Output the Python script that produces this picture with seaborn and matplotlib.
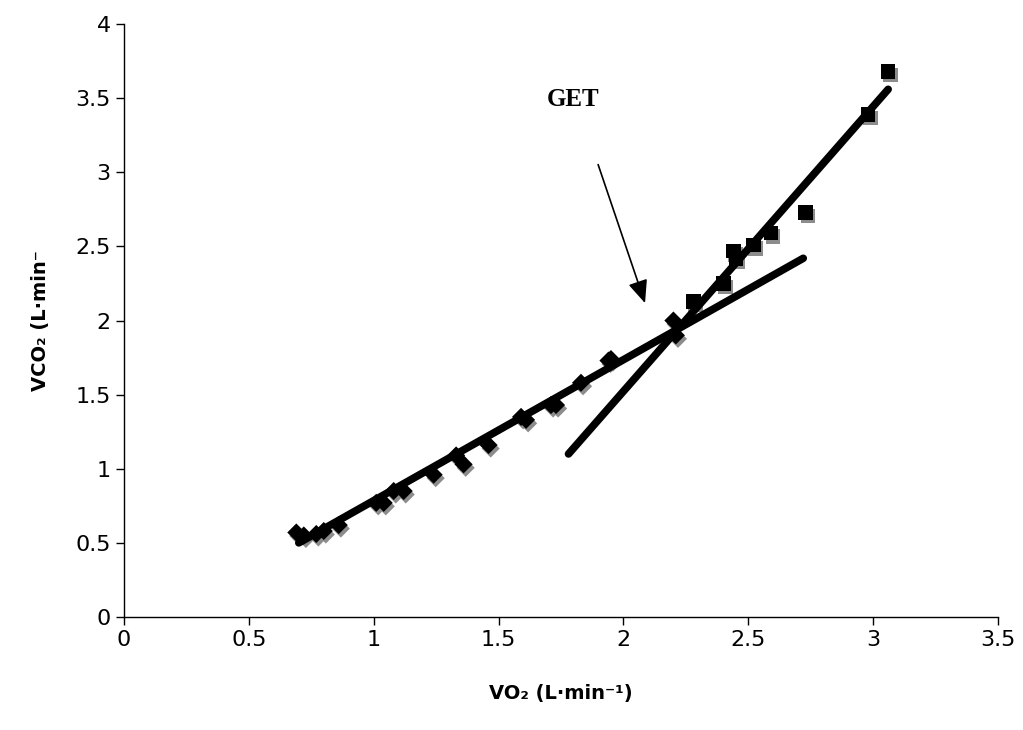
import matplotlib
matplotlib.use("Agg")
import matplotlib.pyplot as plt
import matplotlib.transforms as mtransforms
import seaborn as sns
import pandas as pd

# diamonds: points below the threshold
vo2_low = [0.69, 0.72, 0.77, 0.80, 0.86, 1.01, 1.04, 1.08, 1.12, 1.24, 1.33,
           1.36, 1.46, 1.59, 1.61, 1.71, 1.73, 1.83, 1.94, 1.95, 2.20, 2.21]
vco2_low = [0.57, 0.55, 0.56, 0.58, 0.62, 0.77, 0.77, 0.85, 0.85, 0.96, 1.09,
            1.03, 1.16, 1.35, 1.33, 1.43, 1.43, 1.58, 1.73, 1.74, 2.00, 1.90]
# squares: points above the threshold
vo2_high = [2.28, 2.40, 2.44, 2.45, 2.52, 2.59, 2.73, 2.98, 3.06]
vco2_high = [2.13, 2.25, 2.47, 2.42, 2.51, 2.59, 2.73, 3.39, 3.68]

# fitted lines (endpoints)
fit1_x = [0.70, 2.72]
fit1_y = [0.50, 2.42]
fit2_x = [1.78, 3.06]
fit2_y = [1.10, 3.56]

low = pd.DataFrame({"vo2": vo2_low, "vco2": vco2_low})
high = pd.DataFrame({"vo2": vo2_high, "vco2": vco2_high})

sns.set_style("ticks")
plt.rcParams["font.family"] = ["DejaVu Sans"]
plt.rcParams["text.color"] = "black"
plt.rcParams["axes.labelcolor"] = "black"
plt.rcParams["xtick.color"] = "black"
plt.rcParams["ytick.color"] = "black"

fig = plt.figure(figsize=(10.23, 7.30), dpi=100)
ax = fig.add_axes([0.1212, 0.1548, 0.8544, 0.8122])

shadow = mtransforms.ScaledTranslation(1.5 / 72, -2.5 / 72, fig.dpi_scale_trans)

# grey shadows
for df, mk, sz in [(low, "D", 85), (high, "s", 110)]:
    sns.scatterplot(data=df, x="vo2", y="vco2", marker=mk, s=sz, color="#8c8c8c",
                    edgecolor="none", ax=ax, zorder=2)
    coll = ax.collections[-1]
    coll.set_offset_transform(ax.transData + shadow)

sns.lineplot(x=fit1_x, y=fit1_y, color="black", linewidth=5.5, ax=ax, zorder=4)
sns.lineplot(x=fit2_x, y=fit2_y, color="black", linewidth=5.5, ax=ax, zorder=4)

sns.scatterplot(data=low, x="vo2", y="vco2", marker="D", s=85, color="black",
                edgecolor="none", ax=ax, zorder=3)
sns.scatterplot(data=high, x="vo2", y="vco2", marker="s", s=110, color="black",
                edgecolor="none", ax=ax, zorder=3)

ax.annotate("", xy=(2.09, 2.10), xytext=(1.895, 3.07),
            arrowprops=dict(arrowstyle="-|>,head_length=1.4,head_width=0.6",
                            color="black", lw=1.2))
ax.text(1.80, 3.49, "GET", ha="center", va="center", fontsize=18,
        fontweight="bold", family=["Liberation Serif", "DejaVu Serif"])

ax.set_xlim(0, 3.5)
ax.set_ylim(0, 4)
ax.set_xticks([0, 0.5, 1, 1.5, 2, 2.5, 3, 3.5])
ax.set_xticklabels(["0", "0.5", "1", "1.5", "2", "2.5", "3", "3.5"])
ax.set_yticks([0, 0.5, 1, 1.5, 2, 2.5, 3, 3.5, 4])
ax.set_yticklabels(["0", "0.5", "1", "1.5", "2", "2.5", "3", "3.5", "4"])
ax.tick_params(labelsize=16, length=6, width=1, direction="out", color="black",
               labelcolor="black")
for side in ["top", "right"]:
    ax.spines[side].set_visible(False)
for side in ["left", "bottom"]:
    ax.spines[side].set_color("black")
    ax.spines[side].set_linewidth(1)

ax.set_xlabel("VO₂ (L·min⁻¹)", fontsize=14, fontweight="bold", labelpad=24)
ax.set_ylabel("VCO₂ (L·min⁻", fontsize=14, fontweight="bold", labelpad=18)

fig.savefig("out.png", dpi=100)
